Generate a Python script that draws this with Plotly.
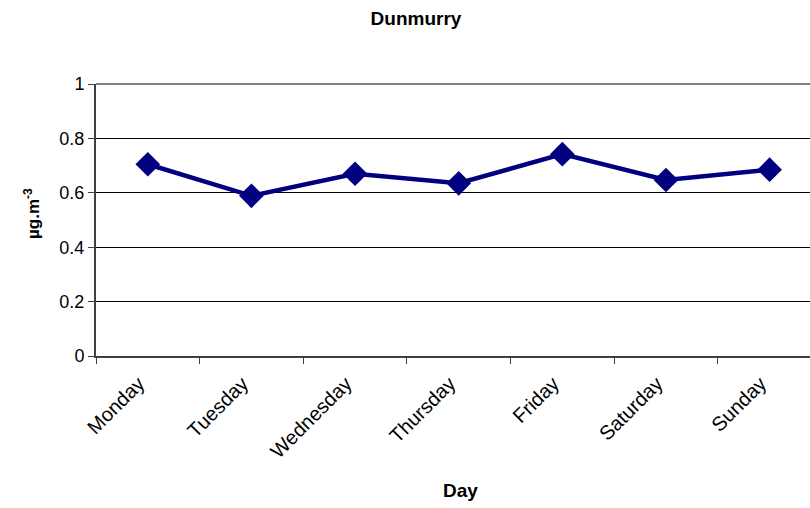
import plotly.graph_objects as go

# Daily mean concentration at Dunmurry
days = ["Monday", "Tuesday", "Wednesday", "Thursday", "Friday", "Saturday", "Sunday"]
concentration = [0.705, 0.589, 0.670, 0.635, 0.742, 0.647, 0.685]
y_ticks = [0, 0.2, 0.4, 0.6, 0.8, 1]
y_tick_labels = ["0", "0.2", "0.4", "0.6", "0.8", "1"]

navy = "#000080"
font_family = "Arial, Liberation Sans, sans-serif"

W, H = 810, 508
L, R, T, B = 96, 0, 84, 152
plot_w = W - L - R
plot_h = H - T - B

fig = go.Figure(
    go.Scatter(
        x=days,
        y=concentration,
        mode="lines+markers",
        line=dict(color=navy, width=4.5),
        marker=dict(symbol="diamond", size=19, color=navy),
        showlegend=False,
    )
)

fig.update_layout(
    width=W,
    height=H,
    margin=dict(l=L, r=R, t=T, b=B),
    paper_bgcolor="white",
    plot_bgcolor="white",
    font=dict(family=font_family, color="black", size=17),
    title=dict(
        text="<b>Dunmurry</b>",
        x=416 / W,
        xanchor="center",
        y=1 - 18 / H,
        yanchor="middle",
        font=dict(size=19),
    ),
    xaxis=dict(
        type="category",
        range=[-0.5, 6.39],
        tickson="boundaries",
        ticks="outside",
        ticklen=6,
        tickcolor="#404040",
        tickangle=-45,
        tickfont=dict(size=20),
        ticklabelstandoff=6,
        ticklabelshift=-9,
        showgrid=False,
        showline=True,
        linecolor="#404040",
        linewidth=2,
        automargin=False,
    ),
    yaxis=dict(
        range=[0, 1],
        tickvals=y_ticks,
        ticktext=y_tick_labels,
        ticks="outside",
        ticklen=6,
        tickcolor="#404040",
        tickfont=dict(size=18),
        showgrid=True,
        gridcolor="black",
        gridwidth=1,
        showline=True,
        linecolor="#404040",
        linewidth=2,
        zeroline=False,
        automargin=False,
    ),
    annotations=[
        dict(
            text="<b>µg.m<sup>-3</sup></b>",
            xref="paper",
            yref="paper",
            x=-(L - 32) / plot_w,
            y=(356 - 214) / plot_h,
            xanchor="center",
            yanchor="middle",
            textangle=-90,
            showarrow=False,
            font=dict(size=17),
        ),
        dict(
            text="<b>Day</b>",
            xref="paper",
            yref="paper",
            x=(460 - L) / plot_w,
            y=-(490 - 356) / plot_h,
            xanchor="center",
            yanchor="middle",
            showarrow=False,
            font=dict(size=19),
        ),
    ],
    shapes=[
        # top border of the plot area
        dict(
            type="line",
            xref="paper",
            yref="paper",
            x0=0,
            x1=1,
            y0=1,
            y1=1,
            line=dict(color="#808080", width=2),
        )
    ],
)

fig.write_html("out.html")
